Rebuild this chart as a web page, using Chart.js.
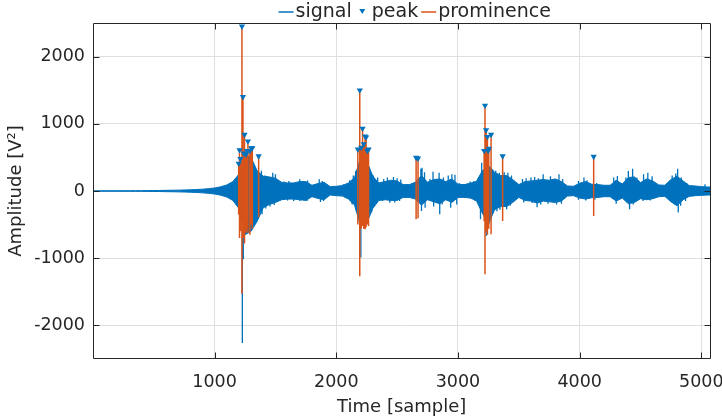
<!DOCTYPE html>
<html><head><meta charset="utf-8">
<script src="https://cdn.jsdelivr.net/npm/chart.js@4.4.0/dist/chart.umd.min.js"></script>
<style>html,body{margin:0;padding:0;background:#fff;}</style>
</head><body>
<canvas id="c" width="722" height="420"></canvas>
<script>
// ---- data ----
const envStep = 50; // samples between readings of the dense core of the signal
const coreHigh = [2,2,3,3,3,4,4,5,5,6,7,8,10,11,13,15,18,22,27,35,45,62,90,140,250,550,500,300,220,210,190,130,120,120,140,140,85,110,130,65,70,80,120,200,500,450,220,120,140,160,150,95,95,130,230,130,170,180,140,180,100,95,115,140,300,380,280,230,230,170,95,140,150,160,170,160,180,140,75,70,115,140,100,95,85,85,160,105,200,210,125,180,150,90,85,170,220,150,80,75,65,60,60];
const coreLow = [-2,-2,-3,-3,-3,-4,-4,-5,-5,-6,-7,-8,-10,-11,-13,-15,-18,-22,-27,-35,-45,-62,-90,-140,-260,-650,-600,-450,-250,-200,-170,-130,-120,-120,-130,-140,-85,-110,-130,-60,-70,-75,-120,-210,-520,-480,-260,-140,-130,-140,-140,-95,-95,-120,-210,-130,-160,-190,-130,-170,-95,-95,-105,-140,-330,-500,-280,-230,-230,-170,-95,-140,-150,-180,-150,-160,-170,-150,-75,-70,-105,-120,-100,-95,-85,-85,-150,-105,-190,-170,-115,-130,-115,-85,-80,-160,-220,-130,-80,-70,-65,-60,-60];
// individual signal spikes sticking out of the core: sample index, amplitude
const spikeX = [1385,1415,1445,1478,1500,1525,1570,1610,1660,1700,1730,1765,1860,1885,2057,2110,2140,
  2160,2285,2305,2340,2390,2420,2470,2500,2530,
  2695,2705,2725,2770,2795,2845,2880,2920,2950,2975,3010,3100,3130,3170,
  3195,3285,3310,3340,3380,3410,3440,3530,3560,3600,3630,3660,3700,3760,3830,3860,
  3990,4035,4060,4140,4280,4310,4380,4400,4435,4470,4525,4560,4595,4760,4790,4805,4835,4880,5030,
  1228,1236,1390,1420,1455,1490,1540,1600,1650,1700,1760,1870,1895,2130,2165,2202,2290,2330,2380,2440,2480,2520,
  2700,2730,2800,2850,2870,2940,2990,3140,3185,3232,3290,3320,3345,3400,3430,3540,3610,3650,3680,3740,3810,3850,
  3990,4050,4125,4300,4410,4440,4520,4580,4780,4810,4830,4870];
const spikeY = [300,230,210,270,250,160,140,150,130,175,140,155,175,150,100,160,230,
  300,270,230,200,180,200,210,190,170,
  330,346,280,180,287,272,200,230,250,240,120,140,150,200,
  420,320,300,270,280,270,230,180,190,200,210,190,250,220,250,180,
  150,200,160,120,200,223,200,297,330,200,250,270,220,230,260,330,200,120,100,
  -2263,-1015,-345,-260,-230,-210,-140,-140,-150,-150,-150,-165,-150,-200,-300,-990,-320,-170,-150,-173,-170,-150,
  -297,-250,-230,-346,-200,-250,-200,-150,-420,-670,-320,-300,-280,-270,-220,-170,-180,-240,-200,-190,-200,-190,
  -130,-140,-130,-190,-272,-200,-150,-140,-200,-320,-220,-150];
const peakX = [1198,1205,1212,1225,1233,1240,1246,1258,1266,1274,1290,1301,1310,1362,
               2177,2193,2205,2216,2226,2237,2245,2255,2265,
               2656,2672,
               3215,3222,3231,3242,3248,3253,3272,3367,
               4115];
const peakY = [410,610,480,2450,1400,560,840,545,600,740,600,640,640,520,
               620,1500,645,930,700,815,800,600,620,
               496,486,
               600,1273,907,808,600,630,840,520,
               511];
const promBase = [-350,-700,-600,-1530,-700,-650,-780,-620,-560,-620,-650,-500,-560,-390,
                  -500,-1270,-560,-520,-560,-570,-540,-500,-520,
                  -420,-405,
                  -450,-1240,-600,-650,-500,-560,-645,-446,
                  -371];
const xTicks = [1000, 2000, 3000, 4000, 5000];
const yTicks = [-2000, -1000, 0, 1000, 2000];
const xRange = [1, 5075];
const yRange = [-2500, 2500];

const BLUE = '#0072BD', ORANGE = '#D95319', AX = '#262626';
const FONT = "'DejaVu Sans', 'Liberation Sans', sans-serif";

const hiPts = coreHigh.map((v, i) => ({x: i * envStep, y: v}));
const loPts = coreLow.map((v, i) => ({x: i * envStep, y: v}));
const spikePts = [];
spikeX.forEach((x, i) => { spikePts.push({x, y: 0}, {x, y: spikeY[i]}, {x, y: null}); });
const promPts = [];
peakX.forEach((x, i) => { promPts.push({x, y: peakY[i]}, {x, y: promBase[i]}, {x, y: null}); });
const peakPts = peakX.map((x, i) => ({x, y: peakY[i]}));

const legendItems = [
  {label: 'signal', kind: 'line', color: BLUE},
  {label: 'peak', kind: 'tri', color: BLUE},
  {label: 'prominence', kind: 'line', color: ORANGE}
];

const boxPlugin = {
  id: 'matlabBox',
  afterDatasetsDraw(chart) {
    const {ctx, chartArea: a, scales} = chart;
    ctx.save();
    ctx.strokeStyle = AX;
    ctx.lineWidth = 1;
    const L = Math.round(a.left) + 0.5, R = Math.round(a.right) - 0.5;
    const T = Math.round(a.top) + 0.5, B = Math.round(a.bottom) - 0.5;
    ctx.beginPath();
    ctx.rect(L, T, R - L, B - T);
    const tl = 6;
    xTicks.forEach(v => {
      const p = Math.round(scales.x.getPixelForValue(v)) + 0.5;
      ctx.moveTo(p, B); ctx.lineTo(p, B - tl);
      ctx.moveTo(p, T); ctx.lineTo(p, T + tl);
    });
    yTicks.forEach(v => {
      const p = Math.round(scales.y.getPixelForValue(v)) + 0.5;
      ctx.moveTo(L, p); ctx.lineTo(L + tl, p);
      ctx.moveTo(R, p); ctx.lineTo(R - tl, p);
    });
    ctx.stroke();

    // legend (MATLAB style, no box)
    ctx.font = '19px ' + FONT;
    ctx.textBaseline = 'middle';
    const symW = 15, gap = 2, itemGap = 3;
    let total = 0;
    legendItems.forEach((it, i) => { total += symW + gap + ctx.measureText(it.label).width + (i < legendItems.length - 1 ? itemGap : 0); });
    const cx = (a.left + a.right) / 2 + 13;
    let x = cx - total / 2;
    const y = 12;
    legendItems.forEach(it => {
      if (it.kind === 'line') {
        ctx.strokeStyle = it.color; ctx.lineWidth = 1.5;
        ctx.beginPath(); ctx.moveTo(x, y); ctx.lineTo(x + symW, y); ctx.stroke();
      } else {
        ctx.fillStyle = it.color;
        const m = x + symW / 2;
        ctx.beginPath(); ctx.moveTo(m - 3, y - 3); ctx.lineTo(m + 3, y - 3); ctx.lineTo(m, y + 2); ctx.closePath(); ctx.fill();
      }
      x += symW + gap;
      ctx.fillStyle = AX;
      ctx.fillText(it.label, x, y);
      x += ctx.measureText(it.label).width + itemGap;
    });
    ctx.restore();
  }
};

new Chart(document.getElementById('c'), {
  type: 'line',
  data: {
    datasets: [
      {label: 'signal', data: hiPts, borderColor: BLUE, backgroundColor: BLUE, borderWidth: 1, pointRadius: 0, fill: '+1', order: 6},
      {label: 'signal-low', data: loPts, borderColor: BLUE, borderWidth: 1, pointRadius: 0, fill: false, order: 5},
      {label: 'signal-spikes', data: spikePts, borderColor: BLUE, borderWidth: 1.3, pointRadius: 0, fill: false, spanGaps: false, order: 4},
      {label: 'prominence', data: promPts, borderColor: ORANGE, borderWidth: 1.5, pointRadius: 0, fill: false, spanGaps: false, order: 2},
      {label: 'peak', data: peakPts, showLine: false, pointStyle: 'triangle', rotation: 180, pointRadius: 3.6, backgroundColor: BLUE, borderColor: BLUE, borderWidth: 0, order: 1}
    ]
  },
  options: {
    responsive: false,
    devicePixelRatio: 1,
    animation: false,
    layout: {padding: {top: 23, right: 11.5, left: 0, bottom: 0}},
    plugins: {legend: {display: false}, tooltip: {enabled: false}},
    scales: {
      x: {
        type: 'linear', min: xRange[0], max: xRange[1],
        afterBuildTicks: s => { s.ticks = xTicks.map(v => ({value: v})); },
        afterFit: s => { s.height = 61; s.paddingLeft = 0; s.paddingRight = 0; },
        grid: {color: '#dfdfdf', drawTicks: false},
        border: {display: false},
        ticks: {color: AX, font: {family: FONT, size: 17.5}, padding: 13, maxRotation: 0, callback: v => String(v)},
        title: {display: true, text: 'Time [sample]', color: AX, font: {family: FONT, size: 18}, padding: {top: 0, bottom: 2}}
      },
      y: {
        type: 'linear', min: yRange[0], max: yRange[1],
        afterBuildTicks: s => { s.ticks = yTicks.map(v => ({value: v})); },
        afterFit: s => { s.width = 93; s.paddingTop = 0; s.paddingBottom = 0; },
        grid: {color: '#dfdfdf', drawTicks: false},
        border: {display: false},
        ticks: {color: AX, font: {family: FONT, size: 17.5}, padding: 8, callback: v => String(v)},
        title: {display: true, text: 'Amplitude [V²]', color: AX, font: {family: FONT, size: 18}, padding: {top: 6, bottom: 0}}
      }
    }
  },
  plugins: [boxPlugin]
});
</script>
</body></html>
